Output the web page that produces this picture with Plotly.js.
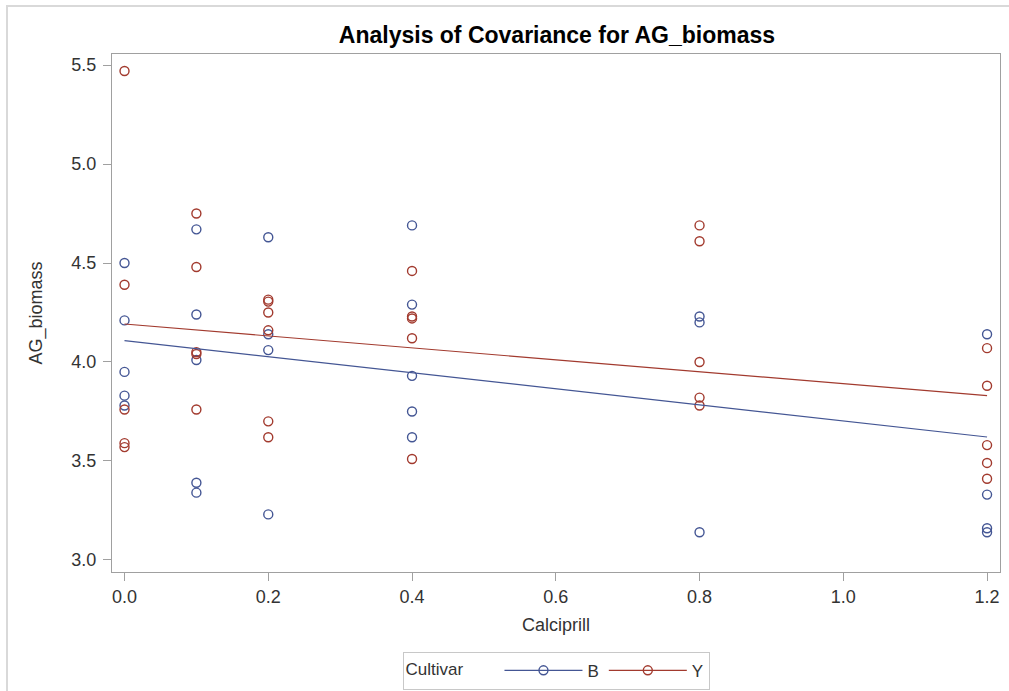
<!DOCTYPE html>
<html>
<head>
<meta charset="utf-8">
<script src="https://cdn.plot.ly/plotly-3.0.1.min.js"></script>
<style>
  html, body { margin: 0; padding: 0; background: #fff; overflow: hidden; }
  #frame { position: absolute; left: 6px; top: 5px; width: 1100px; height: 800px; border: 2px solid #d9d9d9; box-sizing: border-box; }
  #chart { position: absolute; left: 0; top: 0; width: 1009px; height: 691px; }
</style>
</head>
<body>
<div id="frame"></div>
<div id="chart"></div>
<script>
// Data
const xB = [0, 0, 0, 0, 0,
            0.1, 0.1, 0.1, 0.1, 0.1,
            0.2, 0.2, 0.2, 0.2,
            0.4, 0.4, 0.4, 0.4, 0.4,
            0.8, 0.8, 0.8,
            1.2, 1.2, 1.2, 1.2];
const yB = [4.50, 4.21, 3.95, 3.83, 3.78,
            4.67, 4.24, 4.01, 3.39, 3.34,
            4.63, 4.14, 4.06, 3.23,
            4.69, 4.29, 3.93, 3.75, 3.62,
            4.23, 4.20, 3.14,
            4.14, 3.33, 3.16, 3.14];
const xY = [0, 0, 0, 0, 0,
            0.1, 0.1, 0.1, 0.1, 0.1,
            0.2, 0.2, 0.2, 0.2, 0.2, 0.2,
            0.4, 0.4, 0.4, 0.4, 0.4,
            0.8, 0.8, 0.8, 0.8, 0.8,
            1.2, 1.2, 1.2, 1.2, 1.2];
const yY = [5.47, 4.39, 3.76, 3.59, 3.57,
            4.75, 4.48, 4.05, 4.04, 3.76,
            4.315, 4.305, 4.25, 4.16, 3.70, 3.62,
            4.46, 4.23, 4.22, 4.12, 3.51,
            4.69, 4.61, 4.00, 3.82, 3.78,
            4.07, 3.88, 3.58, 3.49, 3.41];
const fitX = [0, 1.2];
const fitB = [4.108, 3.621];
const fitY = [4.192, 3.830];
const xTicks = [0, 0.2, 0.4, 0.6, 0.8, 1.0, 1.2];
const xTickText = ['0.0', '0.2', '0.4', '0.6', '0.8', '1.0', '1.2'];
const yTicks = [3.0, 3.5, 4.0, 4.5, 5.0, 5.5];
const yTickText = ['3.0', '3.5', '4.0', '4.5', '5.0', '5.5'];

const blue = '#445694';
const red = '#A23A2E';
const font = 'Liberation Sans, Arial, sans-serif';
const mk = c => ({ symbol: 'circle-open', size: 9, color: c, line: { width: 1.4, color: c } });

const traces = [
  { x: xB, y: yB, type: 'scatter', mode: 'markers', name: 'B', showlegend: false, marker: mk(blue), hoverinfo: 'none' },
  { x: xY, y: yY, type: 'scatter', mode: 'markers', name: 'Y', showlegend: false, marker: mk(red), hoverinfo: 'none' },
  { x: fitX, y: fitB, type: 'scatter', mode: 'lines', name: 'B', showlegend: false, line: { color: blue, width: 1.2 }, hoverinfo: 'none' },
  { x: fitX, y: fitY, type: 'scatter', mode: 'lines', name: 'Y', showlegend: false, line: { color: red, width: 1.2 }, hoverinfo: 'none' },
  // legend entries
  { x: [null], y: [null], type: 'scatter', mode: 'lines+markers', name: 'B', line: { color: blue, width: 1.2 }, marker: mk(blue) },
  { x: [null], y: [null], type: 'scatter', mode: 'lines+markers', name: 'Y', line: { color: red, width: 1.2 }, marker: mk(red) }
];

const layout = {
  width: 1009, height: 691,
  paper_bgcolor: 'rgba(0,0,0,0)', plot_bgcolor: '#fff',
  margin: { l: 112, r: 9, t: 54, b: 119, autoexpand: false },
  font: { family: font, color: '#333', size: 17 },
  title: { text: '<b>Analysis of Covariance for AG_biomass</b>', x: 0.552, xanchor: 'center', y: 0.950, yanchor: 'middle',
           font: { family: font, size: 23, color: '#000' } },
  xaxis: {
    range: [-0.0174, 1.218], tickvals: xTicks, ticktext: xTickText,
    showgrid: false, zeroline: false, showline: true, linecolor: '#a0a0a0', linewidth: 1, mirror: true,
    ticks: 'outside', ticklen: 8, tickcolor: '#a0a0a0', tickfont: { size: 18, color: '#333' },
    title: { text: 'Calciprill', font: { size: 18, color: '#333' }, standoff: 12 }
  },
  yaxis: {
    range: [2.939, 5.556], tickvals: yTicks, ticktext: yTickText,
    showgrid: false, zeroline: false, showline: true, linecolor: '#a0a0a0', linewidth: 1, mirror: true,
    ticks: 'outside', ticklen: 8, tickcolor: '#a0a0a0', tickfont: { size: 18, color: '#333' }, ticklabelstandoff: 3,
    title: { text: 'AG_biomass', font: { size: 18, color: '#333' }, standoff: 24 }
  },
  showlegend: true,
  legend: {
    orientation: 'h', x: 0.5, xanchor: 'center', y: -0.154, yanchor: 'top',
    bordercolor: '#c8c8c8', borderwidth: 1, bgcolor: '#fff',
    title: { text: 'Cultivar      ', font: { size: 17, color: '#333' }, side: 'left' },
    font: { size: 17, color: '#333' }, itemwidth: 78
  }
};

Plotly.newPlot('chart', traces, layout, { displayModeBar: false, staticPlot: true });
</script>
</body>
</html>
